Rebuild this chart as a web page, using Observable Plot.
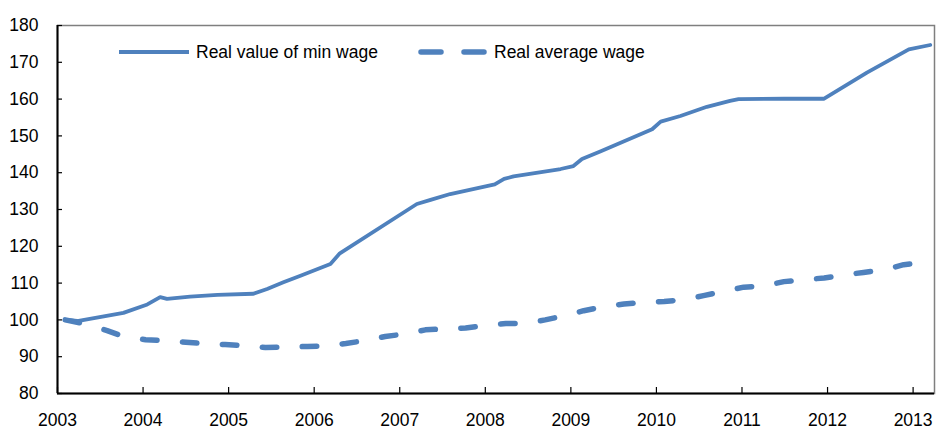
<!DOCTYPE html>
<html><head><meta charset="utf-8">
<script src="https://cdn.jsdelivr.net/npm/d3@7"></script>
<script src="https://cdn.jsdelivr.net/npm/@observablehq/plot@0.6"></script>
<style>
body{margin:0;background:#fff;}
#wrap{position:relative;width:936px;height:429px;font-family:"Liberation Sans",Arial,sans-serif;}
#legend{position:absolute;left:0;top:0;pointer-events:none;}
</style></head><body><div id="wrap"></div>
<script>
const seriesNames = ["Real value of min wage", "Real average wage"];
const minWageYears = [2003.11, 2003.23, 2003.77, 2004.05, 2004.20, 2004.28, 2004.55, 2004.87, 2005.29, 2005.45, 2005.64, 2005.84, 2006.19, 2006.30, 2007.20, 2007.36, 2007.59, 2008.11, 2008.22, 2008.33, 2008.88, 2009.03, 2009.13, 2009.35, 2009.95, 2010.05, 2010.28, 2010.59, 2010.86, 2010.96, 2011.49, 2011.96, 2012.46, 2012.95, 2013.20];
const minWageValues = [100.0, 99.7, 101.9, 104.2, 106.2, 105.7, 106.3, 106.8, 107.1, 108.4, 110.2, 112.0, 115.2, 118.1, 131.5, 132.6, 134.2, 136.8, 138.3, 139.0, 141.0, 141.8, 143.7, 145.8, 151.8, 153.9, 155.4, 157.9, 159.5, 160.0, 160.1, 160.1, 167.2, 173.5, 174.7];
const avgWageYears = [2003.09, 2003.33, 2003.58, 2003.77, 2004.03, 2004.24, 2004.50, 2004.71, 2004.96, 2005.18, 2005.43, 2005.66, 2005.92, 2006.13, 2006.37, 2006.60, 2006.83, 2007.07, 2007.30, 2007.53, 2007.77, 2008.00, 2008.24, 2008.47, 2008.70, 2008.94, 2009.15, 2009.38, 2009.62, 2009.85, 2010.09, 2010.32, 2010.55, 2010.79, 2011.02, 2011.25, 2011.49, 2011.72, 2011.96, 2012.19, 2012.42, 2012.66, 2012.89, 2013.11, 2013.20];
const avgWageValues = [100.0, 98.9, 97.1, 95.5, 94.6, 94.4, 93.9, 93.6, 93.3, 93.0, 92.5, 92.6, 92.8, 92.9, 93.6, 94.4, 95.5, 96.2, 97.3, 97.6, 97.8, 98.5, 99.0, 99.1, 100.0, 101.2, 102.5, 103.6, 104.3, 104.8, 105.0, 105.5, 106.6, 107.8, 108.9, 109.2, 110.4, 110.9, 111.4, 112.2, 112.9, 113.6, 115.0, 115.5, 115.7];
const xTicks = [2003, 2004, 2005, 2006, 2007, 2008, 2009, 2010, 2011, 2012, 2013];
const yTicks = [80, 90, 100, 110, 120, 130, 140, 150, 160, 170, 180];

const color = "#4F81BD";
const font = '"Liberation Sans", Arial, sans-serif';
const W = 936, H = 429, mL = 57, mR = 2, mT = 25, mB = 36;

const minData = minWageYears.map((x, i) => ({x, y: minWageValues[i]}));
const avgData = avgWageYears.map((x, i) => ({x, y: avgWageValues[i]}));

const chart = Plot.plot({
  width: W, height: H,
  marginLeft: mL, marginRight: mR, marginTop: mT, marginBottom: mB,
  style: {fontFamily: font, fontSize: "17.5px", color: "#000", background: "#fff"},
  x: {domain: [2003, 2013.25], label: null},
  y: {domain: [80, 180], label: null},
  marks: [
    Plot.frame({stroke: "#7f7f7f", strokeWidth: 1.5}),
    Plot.line(avgData, {x: "x", y: "y", stroke: color, strokeWidth: 5.5, strokeDasharray: "14.5,25.5", strokeLinecap: "round"}),
    Plot.line(minData, {x: "x", y: "y", stroke: color, strokeWidth: 3.8}),
    Plot.ruleX([2003], {stroke: "#000", strokeWidth: 2}),
    Plot.ruleY([80], {stroke: "#000", strokeWidth: 2}),
    Plot.tickY(yTicks, {y: d => d, stroke: "#000", strokeWidth: 1.2, insetRight: W - mL - mR - 5}),
    Plot.tickX(xTicks, {x: d => d, stroke: "#000", strokeWidth: 1.2, insetTop: H - mT - mB - 6}),
    Plot.axisY(yTicks, {tickSize: 0, tickPadding: 19, fontSize: 17.5, fill: "#000", label: null}),
    Plot.axisX(xTicks, {tickSize: 0, tickPadding: 20, tickFormat: d => String(d), fontSize: 17.5, fill: "#000", label: null})
  ]
});
const wrap = document.getElementById("wrap");
wrap.appendChild(chart);

// legend overlay inside plot area
const ns = "http://www.w3.org/2000/svg";
const lg = document.createElementNS(ns, "svg");
lg.setAttribute("id", "legend");
lg.setAttribute("width", W);
lg.setAttribute("height", 80);
const items = [
  {x1: 119, x2: 189, tx: 196, sw: 3.8, dash: null, cap: "butt"},
  {x1: 421, x2: 486, tx: 494, sw: 5.5, dash: "20,23", cap: "round"}
];
items.forEach((it, i) => {
  const l = document.createElementNS(ns, "line");
  l.setAttribute("x1", it.x1); l.setAttribute("x2", it.x2);
  l.setAttribute("y1", 52); l.setAttribute("y2", 52);
  l.setAttribute("stroke", color); l.setAttribute("stroke-width", it.sw);
  l.setAttribute("stroke-linecap", it.cap);
  if (it.dash) l.setAttribute("stroke-dasharray", it.dash);
  lg.appendChild(l);
  const t = document.createElementNS(ns, "text");
  t.setAttribute("x", it.tx); t.setAttribute("y", 52); t.setAttribute("dy", "0.35em");
  t.setAttribute("font-family", font); t.setAttribute("font-size", "17.5px"); t.setAttribute("fill", "#000");
  t.textContent = seriesNames[i];
  lg.appendChild(t);
});
wrap.appendChild(lg);
</script>
</body></html>
